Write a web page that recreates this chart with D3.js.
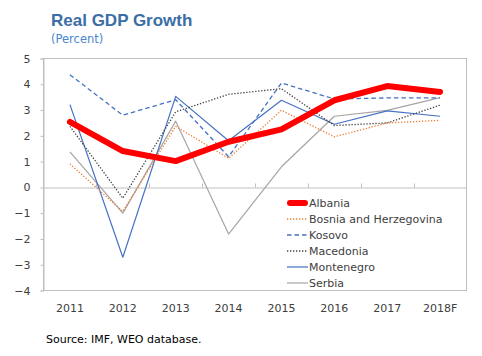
<!DOCTYPE html>
<html><head><meta charset="utf-8">
<script src="https://cdn.jsdelivr.net/npm/d3@7"></script>
<style>body{margin:0;background:#fff}svg{display:block}</style>
</head><body>
<svg id="chart" width="482" height="356"></svg>
<script>
const categories = ["2011","2012","2013","2014","2015","2016","2017","2018F"];
const yTicks = [5,4,3,2,1,0,-1,-2,-3,-4];
const albania     = [2.54, 1.41, 1.02, 1.77, 2.25, 3.38, 3.93, 3.70];
const bosnia      = [0.91, -0.93, 2.37, 1.13, 2.99, 1.96, 2.50, 2.60];
const kosovo      = [4.37, 2.80, 3.40, 1.19, 4.05, 3.43, 3.47, 3.47];
const macedonia   = [2.37, -0.42, 2.93, 3.61, 3.83, 2.40, 2.50, 3.19];
const montenegro  = [3.21, -2.71, 3.53, 1.81, 3.38, 2.45, 2.97, 2.76];
const serbia      = [1.38, -1.00, 2.57, -1.81, 0.80, 2.76, 2.99, 3.48];
const seriesNames = ["Albania","Bosnia and Herzegovina","Kosovo","Macedonia","Montenegro","Serbia"];

const series = [
  {name: seriesNames[0], values: albania,    color: "#ff0000", width: 6,   dash: null, cap: "round"},
  {name: seriesNames[1], values: bosnia,     color: "#ed7d31", width: 1.3, dash: "1.3,1.7", cap: "butt"},
  {name: seriesNames[2], values: kosovo,     color: "#4472c4", width: 1.3, dash: "4.5,3", cap: "butt"},
  {name: seriesNames[3], values: macedonia,  color: "#404040", width: 1.3, dash: "1.3,1.7", cap: "butt"},
  {name: seriesNames[4], values: montenegro, color: "#4472c4", width: 1.2, dash: null, cap: "butt"},
  {name: seriesNames[5], values: serbia,     color: "#a5a5a5", width: 1.2, dash: null, cap: "butt"}
];

const svg = d3.select("#chart");
const L = 43.5, R = 466.5, T = 58.5, B = 290.5;
const x = d3.scaleBand().domain(categories).range([L, R]);
const y = d3.scaleLinear().domain([-4, 5]).range([B, T]);
const font = "DejaVu Sans, Verdana, sans-serif";

// title
svg.append("text").attr("x", 51).attr("y", 26)
  .attr("font-family", "Liberation Sans, Arial, sans-serif").attr("font-weight", "bold")
  .attr("font-size", 17).attr("fill", "#3b6ea5").text("Real GDP Growth");
svg.append("text").attr("x", 51).attr("y", 43)
  .attr("font-family", font).attr("font-size", 11.5).attr("fill", "#4a86d0").text("(Percent)");

// plot border
svg.append("rect").attr("x", L).attr("y", T).attr("width", R - L).attr("height", B - T)
  .attr("fill", "none").attr("stroke", "#bfbfbf").attr("stroke-width", 1);

// y axis
const yAxis = d3.axisLeft(y).tickValues(yTicks).tickSize(3).tickPadding(10).tickFormat(d3.format("d"));
const ya = svg.append("g").attr("transform", `translate(${L},0)`).call(yAxis);
ya.select(".domain").attr("stroke", "#bfbfbf");
ya.selectAll(".tick line").attr("stroke", "#bfbfbf");
ya.selectAll(".tick text").attr("font-family", font).attr("font-size", 11).attr("fill", "#404040");

// zero axis with category boundary ticks
const xAxis = d3.axisTop(x).tickSize(0).tickFormat("");
const xa = svg.append("g").attr("transform", `translate(0,${Math.round(y(0)) + 0.5})`).call(xAxis);
xa.select(".domain").attr("stroke", "#bfbfbf");
xa.selectAll(".tick").remove();
xa.selectAll(".bt").data(categories.slice(1)).enter().append("line")
  .attr("x1", d => Math.round(x(d)) + 0.5).attr("x2", d => Math.round(x(d)) + 0.5)
  .attr("y1", 0).attr("y2", -4).attr("stroke", "#bfbfbf");

// x labels at bottom
const xb = svg.append("g").attr("transform", `translate(0,${B})`)
  .call(d3.axisBottom(x).tickSize(0).tickPadding(14));
xb.select(".domain").remove();
xb.selectAll(".tick text").attr("font-family", font).attr("font-size", 11).attr("fill", "#404040");

// lines
const line = d3.line().x((d, i) => x(categories[i]) + x.bandwidth() / 2).y(d => y(d));
const order = [5, 4, 3, 2, 1, 0];
order.forEach(k => {
  const s = series[k];
  svg.append("path").datum(s.values).attr("d", line)
    .attr("fill", "none").attr("stroke", s.color).attr("stroke-width", s.width)
    .attr("stroke-dasharray", s.dash).attr("stroke-linejoin", "round")
    .attr("stroke-linecap", s.cap);
});

// legend
const lg = svg.append("g").attr("transform", "translate(287,203)");
series.forEach((s, i) => {
  const g = lg.append("g").attr("transform", `translate(0,${i * 16})`);
  const pad = s.cap === "round" ? 3 : 0;
  g.append("line").attr("x1", pad).attr("x2", 21 - pad).attr("y1", 0).attr("y2", 0)
    .attr("stroke", s.color).attr("stroke-width", s.width).attr("stroke-dasharray", s.dash)
    .attr("stroke-linecap", s.cap);
  g.append("text").attr("x", 22).attr("y", 4).attr("font-family", font)
    .attr("font-size", 11).attr("fill", "#404040").text(s.name);
});

// source
svg.append("text").attr("x", 46).attr("y", 343).attr("font-family", font)
  .attr("font-size", 11).attr("fill", "#000").text("Source: IMF, WEO database.");
</script>
</body></html>
